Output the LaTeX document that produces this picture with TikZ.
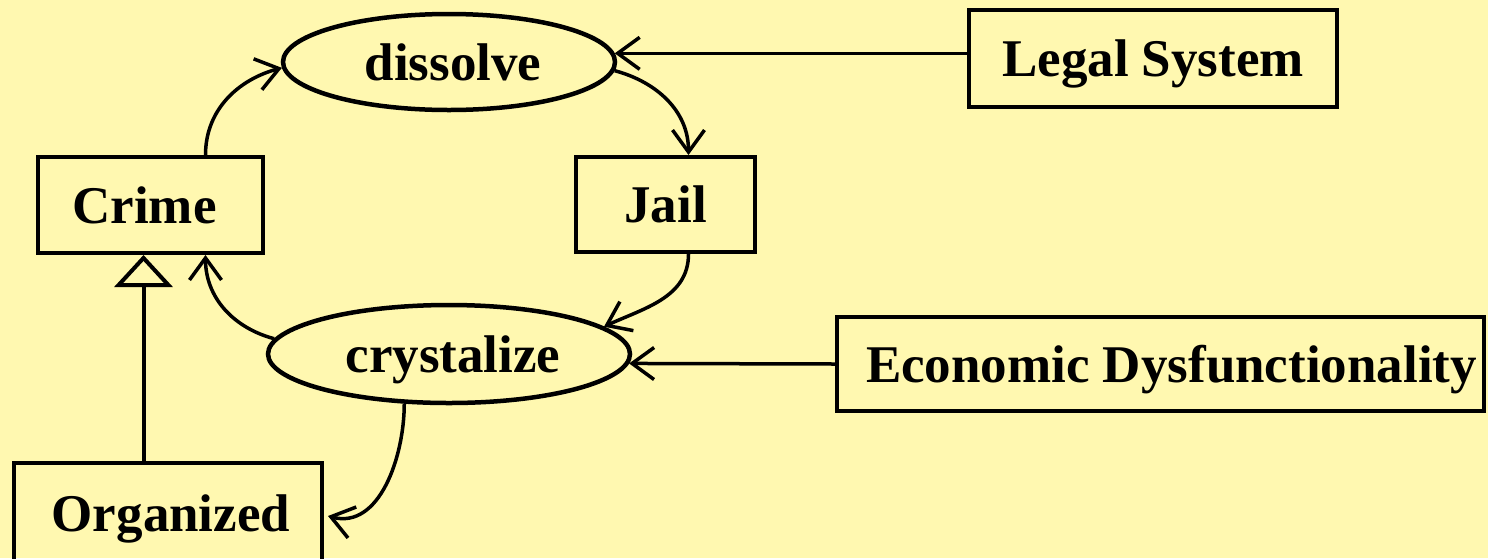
\documentclass[tikz,border=0pt]{standalone}
\usepackage{fontspec}
\setmainfont{Liberation Serif}
\usetikzlibrary{shapes.geometric,arrows.meta,calc}
\definecolor{paper}{RGB}{255,248,176}
\begin{document}
\begin{tikzpicture}[x=1pt,y=-1pt,
  every node/.style={font=\fontsize{53}{60}\selectfont\bfseries, inner sep=0pt,
    text height=48pt, text depth=12pt},
  box/.style={draw, line width=4pt, rectangle},
  usecase/.style={draw, line width=4.5pt, ellipse},
  flow/.style={line width=3.5pt, -{Straight Barb[length=22pt,width=32pt,line width=3.5pt]}},
  inherit/.style={line width=4pt, -{Triangle[open,length=32pt,width=58pt,line width=4pt]}}]
\fill[paper] (0,0) rectangle (1488,558);
\useasboundingbox (0,0) rectangle (1488,558);

% classes and use cases
\node[usecase, minimum width=332pt, minimum height=96pt] (diss) at (449,62) {\hspace{8pt}dissolve};
\node[usecase, minimum width=362pt, minimum height=98pt] (cryst) at (449,354) {\hspace{8pt}crystalize};
\node[box, minimum width=225pt, minimum height=96pt] (crime) at (150.5,205) {Crime\kern12pt};
\node[box, minimum width=179pt, minimum height=95pt] (jail) at (665.5,204.5) {Jail};
\node[box, minimum width=368pt, minimum height=97pt] (legal) at (1153,58.5) {Legal System};
\node[box, minimum width=647pt, minimum height=94pt] (econ) at (1160.5,364) {\hspace{22pt}Economic Dysfunctionality};
\node[box, minimum width=308pt, minimum height=100pt] (org) at (168,513) {\hspace{6pt}Organized};

% cycle of associations
\draw[flow] ($(crime.north)+(55,0)$) to[out=90,in=195] (diss.182);
\draw[flow] (diss.-3.5) to[out=-15,in=90] ($(jail.north)+(23,0)$);
\draw[flow] ($(jail.south)+(23,0)$) to[out=-90,in=25] (cryst.10);
\draw[flow] (cryst.175.6) to[out=165,in=-90] ($(crime.south)+(55,0)$);
\draw[flow] (cryst.-132.8) to[out=-90,in=-15] ($(org.east)+(4,3)$);

% external influences
\draw[flow] (legal.west |- diss.3.2) -- (diss.3.2);
\draw[flow] (econ.west) -- (cryst.-3.6);

% generalisation
\coordinate (gen) at ($(crime.south)+(-7,0)$);
\draw[inherit] (gen |- org.north) -- (gen);
\end{tikzpicture}
\end{document}
